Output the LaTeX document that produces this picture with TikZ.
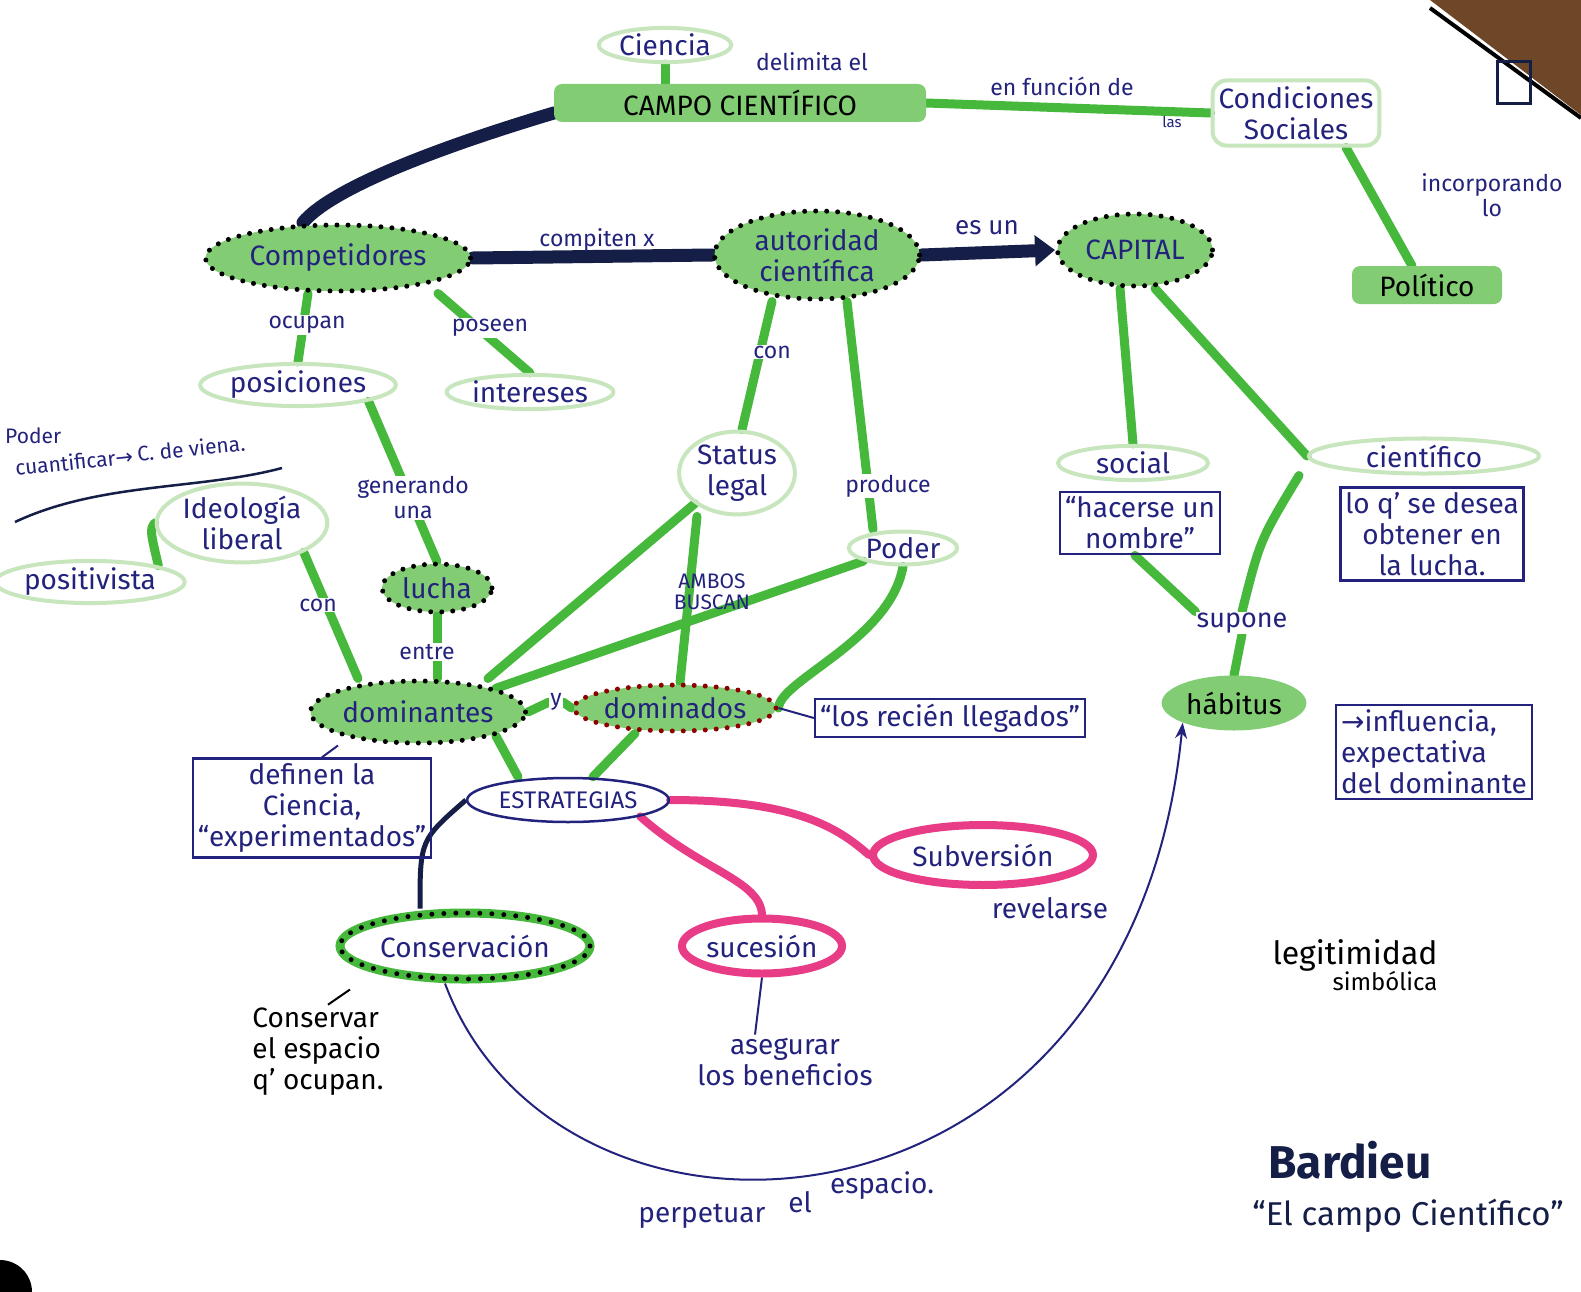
\documentclass[tikz,border=0pt]{standalone}
\usepackage{fontspec}
\setmainfont{Fira Sans}
\newfontfamily\symf{DejaVu Sans}
\usetikzlibrary{shapes.geometric,arrows.meta}
\pgfdeclarelayer{paper}
\pgfdeclarelayer{lines}
\pgfsetlayers{paper,lines,main}
\definecolor{ink}{RGB}{35,35,125}
\definecolor{mk}{RGB}{130,205,115}
\definecolor{mkl}{RGB}{200,230,190}
\definecolor{gl}{RGB}{70,185,60}
\definecolor{nv}{RGB}{20,30,70}
\definecolor{pk}{RGB}{232,60,135}
\definecolor{wood}{RGB}{110,70,40}
\begin{document}
\begin{tikzpicture}[x=1pt,y=-1pt,
 t/.style={font=\fontsize{28}{31}\selectfont, text=ink, align=center},
 l/.style={font=\fontsize{23}{25}\selectfont, text=ink, align=center, fill=white, inner sep=1pt},
 soft/.style={t, ellipse, draw=mkl, line width=4pt, inner sep=1pt},
 filled/.style={t, rectangle, fill=mk, rounded corners=8pt, text=black},
 dotn/.style={t, ellipse, fill=mk, draw=black, line width=5pt, dash pattern=on 0pt off 11pt, line cap=round, inner sep=0pt},
 gline/.style={draw=gl, line width=9pt, line cap=round},
 nline/.style={draw=nv, line width=13pt, line cap=round},
 pline/.style={draw=pk, line width=8pt, line cap=round},
 thin/.style={draw=ink, line width=2pt},
 notebox/.style={t, draw=ink, line width=2.5pt, rectangle, inner sep=5pt},
 pinknode/.style={t, ellipse, draw=pk, line width=8pt, inner sep=1pt},
]
\useasboundingbox (0,0) rectangle (1581,1292);
\begin{pgfonlayer}{paper}
\fill[white] (0,0) rectangle (1581,1292);
\fill[wood] (1430,0) -- (1581,0) -- (1581,115) -- cycle;
\draw[black, line width=4pt] (1430,8) -- (1581,118);
\draw[nv, line width=3pt] (1497,62) rectangle (1530,104);
\fill[black] (0,1292) circle (32);
\end{pgfonlayer}

% ---- nodes ----
\node[soft] (ciencia) at (665,45) {Ciencia};
\node[filled, minimum width=372, minimum height=38] (campo) at (740,103) {CAMPO CIENTÍFICO};
\node[t, draw=mkl, line width=4pt, rounded corners=14pt, inner sep=6pt] (cond) at (1296,113) {Condiciones\\Sociales};
\node[filled, minimum width=150, minimum height=38] (politico) at (1427,285) {Político};

\node[dotn, minimum width=265, minimum height=66] (comp) at (338,258) {Competidores};
\node[dotn, minimum width=205, minimum height=88] (aut) at (817,255) {autoridad\\científica};
\node[dotn, minimum width=155, minimum height=72] (capital) at (1135,250) {CAPITAL};

\node[soft] (pos) at (298,385) {posiciones};
\node[soft] (int) at (530,392) {intereses};
\node[soft] (status) at (737,473) {Status\\legal};
\node[soft] (poder) at (903,548) {Poder};
\node[soft, minimum width=150] (social) at (1133,463) {social};
\node[soft, minimum width=230] (cient) at (1424,456) {científico};

\node[notebox] (hacerse) at (1140,523) {“hacerse un\\nombre”};
\node[notebox] (desea) at (1432,534) {lo q' se desea\\obtener en\\la lucha.};
\node[l, font=\fontsize{27}{29}\selectfont] (supone) at (1242,623) {supone};
\node[t, ellipse, fill=mk, text=black, minimum width=140, minimum height=55] (habitus) at (1234,703) {hábitus};
\node[notebox, align=left] (infl) at (1434,752) {{\symf →}influencia,\\expectativa\\del dominante};

\node[soft] (ideo) at (242,523) {Ideología\\liberal};
\node[soft] (posit) at (90,582) {positivista};
\node[dotn, minimum width=110, minimum height=48] (lucha) at (437,588) {lucha};
\node[dotn, minimum width=215, minimum height=62] (dom) at (418,712) {dominantes};
\node[dotn, draw=red!55!black, minimum width=160, minimum height=46] (domd) at (675,708) {dominados};
\node[notebox] (llegados) at (950,718) {“los recién llegados”};
\node[notebox] (definen) at (312,808) {definen la\\Ciencia,\\“experimentados”};

\node[t, ellipse, draw=ink, line width=2.5pt, inner sep=2pt, minimum height=44, font=\fontsize{24}{26}\selectfont] (estr) at (568,800) {ESTRATEGIAS};
\node[pinknode, minimum width=220, minimum height=60] (subv) at (983,855) {Subversión};
\node[t, ellipse, draw=gl, line width=9pt, minimum width=250, minimum height=66, inner sep=0pt,
      postaction={draw=black, line width=5pt, dash pattern=on 0pt off 12pt, line cap=round}] (conserv) at (465,946) {Conservación};
\node[pinknode, minimum width=150, minimum height=55] (suces) at (762,946) {sucesión};

\node[t, text=black, align=left] (conservar) at (318,1052) {Conservar\\el espacio\\q' ocupan.};
\node[t] (asegurar) at (785,1062) {asegurar\\los beneficios};
\node[t] (revelarse) at (1050,908) {revelarse};
\node[t, text=black, font=\fontsize{32}{30}\selectfont] (legit) at (1355,965) {legitimidad\\[-4pt]{\fontsize{24}{24}\selectfont\hspace{2.5em}simbólica}};
\node[t, font=\bfseries\fontsize{46}{48}\selectfont, text=nv] (bardieu) at (1350,1160) {Bardieu};
\node[t, font=\fontsize{33}{36}\selectfont, text=nv] (elcampo) at (1408,1216) {“El campo Científico”};

\node[t, anchor=west, font=\fontsize{21}{22}\selectfont, inner sep=1pt] (podernote) at (4,436) {Poder};
\node[t, anchor=west, rotate=6, font=\fontsize{21}{22}\selectfont, inner sep=1pt] (cuant) at (14,468) {cuantificar{\symf →}};
\node[t, anchor=west, rotate=6, font=\fontsize{21}{22}\selectfont, inner sep=1pt] (viena) at (136,454) {C. de viena.};
\coordinate (uL) at (15,522);
\coordinate (uR) at (282,468);
\draw[nv, line width=2.5pt] (uL) .. controls (100,482) and (200,490) .. (uR);

% ---- edge labels ----
\node[l, fill=none] (lbdel) at (812,62) {delimita el};
\node[l, fill=none] (lbfun) at (1062,86) {en función de};
\node[l, fill=none, font=\fontsize{15}{15}\selectfont] (lblas) at (1172,122) {las};
\node[l] (lbinc) at (1492,195) {incorporando\\lo};
\node[l, fill=none] (lbcomp) at (597,240) {compiten x};
\node[l, fill=none, font=\fontsize{26}{26}\selectfont] (lbes) at (987,228) {es un};
\node[l] (lbocu) at (307,325) {ocupan};
\node[l] (lbpos) at (490,328) {poseen};
\node[l] (lbcon) at (772,352) {con};
\node[l] (lbprod) at (888,486) {produce};
\node[l] (lbgen) at (413,498) {generando\\una};
\node[l] (lbcon2) at (318,605) {con};
\node[l] (lbentre) at (427,652) {entre};
\node[l] (lby) at (556,702) {y};
\node[l, font=\fontsize{21}{21}\selectfont, fill=none] (lbambos) at (712,592) {AMBOS\\BUSCAN};
\node[t] (perp1) at (702,1216) {perpetuar};
\node[t] (perp2) at (800,1202) {el};
\node[t] (perp3) at (882,1186) {espacio.};

% ---- connectors ----
\begin{pgfonlayer}{lines}
\draw[nline] ([yshift=-10]campo.west) .. controls (430,150) and (330,190) .. ([xshift=-35]comp.north);
\draw[nline] (comp.east) -- (aut.west);
\draw[nline, -{Triangle[length=20pt,width=30pt]}] (aut.east) -- (capital.west);

\draw[gline] (ciencia.south) -- (campo.north -| ciencia.south);
\draw[gline] (campo.east) -- (cond.west);
\draw[gline] ([xshift=50]cond.south) -- ([xshift=-15]politico.north);
\draw[gline] ([xshift=-30]comp.south) -- (pos.north);
\draw[gline] ([xshift=100]comp.south) -- (int.north);
\draw[gline] ([xshift=-45]aut.south) -- ([xshift=5]status.north);
\draw[gline] ([xshift=30]aut.south) -- ([xshift=-30]poder.north);
\draw[gline] ([xshift=-15]capital.south) -- (social.north);
\draw[gline] ([xshift=20]capital.south) -- (cient.west);
\draw[gline] ([xshift=-5]hacerse.south) -- (supone.north west);
\draw[gline] ([xshift=-125]cient.south) .. controls (1260,540) .. (supone.north);
\draw[gline] (supone.south) -- (habitus.north);
\draw[gline] (pos.south east) -- (lucha.north);
\draw[gline] (ideo.west) .. controls (150,530) .. (posit.north east);
\draw[gline] (ideo.south east) -- ([xshift=-60]dom.north);
\draw[gline] (lucha.south) -- (dom.north -| lucha.south);
\draw[gline] (status.south west) -- ([xshift=70]dom.north);
\draw[gline] ([xshift=-40]status.south) -- ([xshift=5]domd.north);
\draw[gline] (poder.south west) -- (dom.north east);
\draw[gline] (poder.south) .. controls (890,640) and (780,680) .. (domd.east);
\draw[gline] (dom.east) -- (lby.west);
\draw[gline] (lby.east) -- (domd.west);
\draw[gline] (dom.south east) -- ([xshift=-50]estr.north);
\draw[gline] ([xshift=-40]domd.south) -- ([xshift=25]estr.north);

\draw[nv, line width=5pt] (estr.west) .. controls (420,840) .. ([xshift=-45]conserv.north);
\draw[pline] (estr.east) .. controls (800,800) and (840,830) .. (subv.west);
\draw[pline] (estr.south east) .. controls (700,870) and (760,880) .. (suces.north);

\draw[thin] ([xshift=-80]dom.south) -- ([xshift=10]definen.north);
\draw[thin] (domd.east) -- (llegados.west);
\draw[thin, black] ([xshift=-115,yshift=-6]conserv.south) -- ([xshift=10]conservar.north);
\draw[thin] (suces.south) -- ([xshift=-30]asegurar.north);
\draw[ink, line width=2pt, -{Stealth[length=16pt,width=12pt]}] ([xshift=-20]conserv.south) .. controls (560,1290) and (1130,1260) .. (habitus.south west);
\end{pgfonlayer}
\end{tikzpicture}
\end{document}
